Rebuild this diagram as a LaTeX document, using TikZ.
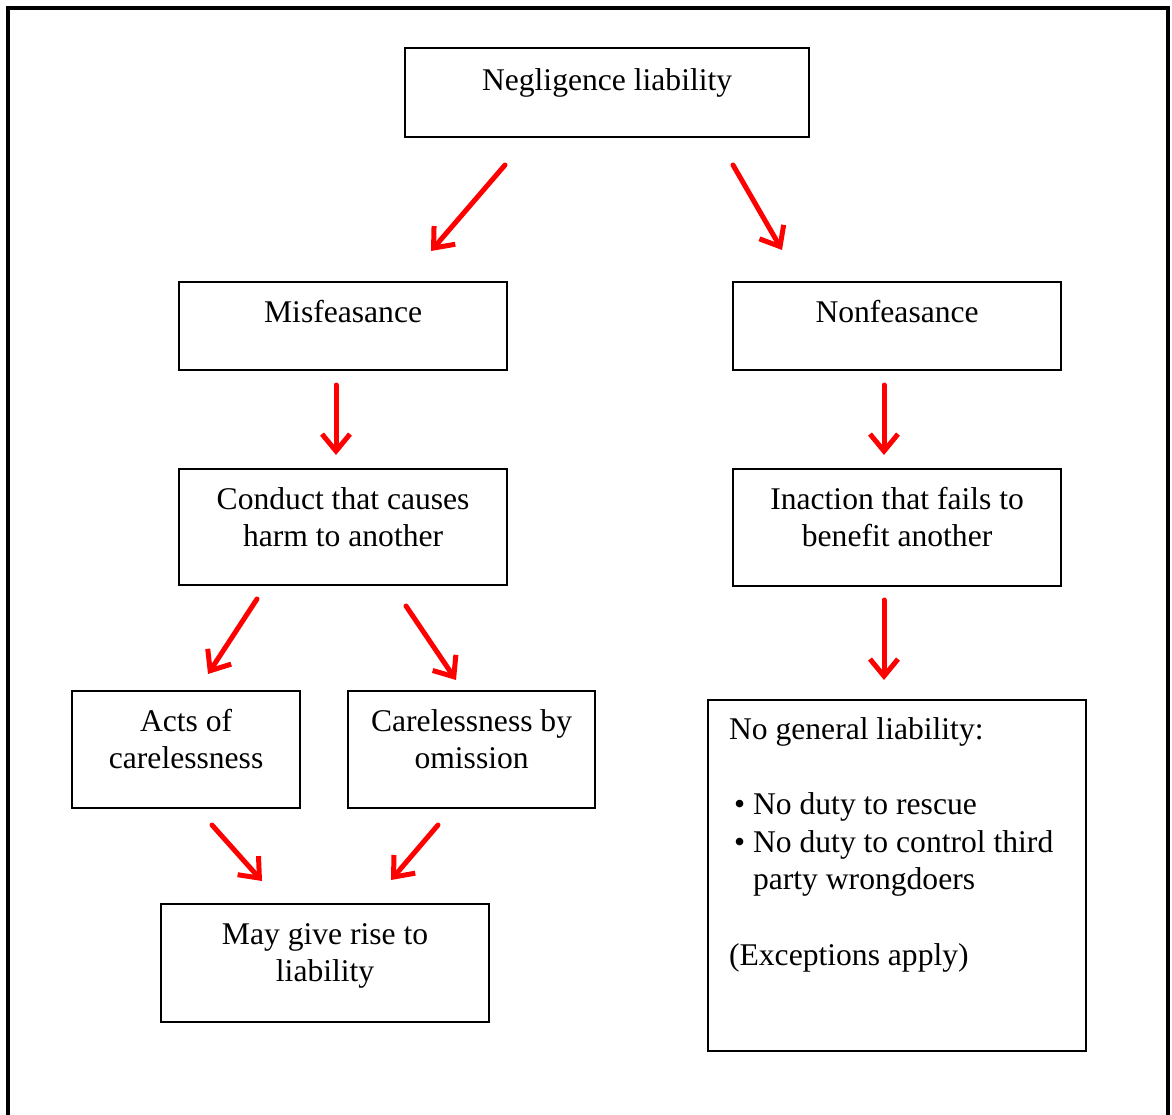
\documentclass[tikz,border=0pt]{standalone}
\usepackage{fontspec}
\setmainfont{Liberation Serif}
\usetikzlibrary{arrows.meta}

% text block of a flow box: width, height, top gap, lines
\newcommand\flowlines[4]{%
  \parbox[c][#2][t]{#1}{\fontsize{31.6pt}{37.7pt}\selectfont\centering
    \vspace*{#3}\strut #4\par}}

\tikzset{
  box/.style={draw=black, line width=2.2pt, inner sep=0pt, anchor=north west},
  flow/.style={draw=red, line width=5pt, line cap=round,
    -{Straight Barb[length=17pt,width=28pt]}},
}

\begin{document}
\begin{tikzpicture}[x=1pt, y=-1pt]
\useasboundingbox (0,0) rectangle (1172,1115);

% open frame round the chart
\draw[line width=4pt] (8,1115) -- (8,8) -- (1168,8) -- (1168,1115);

% boxes
\node[box] (neg) at (404,47) {\flowlines{404pt}{89pt}{15.6pt}{Negligence liability}};
\node[box] (mis) at (178,281) {\flowlines{328pt}{88pt}{13.6pt}{Misfeasance}};
\node[box] (non) at (732,281) {\flowlines{328pt}{88pt}{13.6pt}{Nonfeasance}};
\node[box] (cond) at (178,468) {\flowlines{328pt}{116pt}{13.6pt}{Conduct that causes\\harm to another}};
\node[box] (inac) at (732,468) {\flowlines{328pt}{117pt}{13.6pt}{Inaction that fails to\\benefit another}};
\node[box] (acts) at (71,690) {\flowlines{228pt}{117pt}{13.6pt}{Acts of\\carelessness}};
\node[box] (care) at (347,690) {\flowlines{247pt}{117pt}{13.6pt}{Carelessness by\\omission}};
\node[box] (may) at (160,903) {\flowlines{328pt}{118pt}{13.6pt}{May give rise to\\liability}};
\node[box] (nogen) at (707,699) {\parbox[c][351pt][t]{378pt}{%
    \fontsize{31.6pt}{37.7pt}\selectfont\raggedright\leftskip=21pt
    \vspace*{12.6pt}\strut No general liability:\\[37.7pt]
    \hspace*{5pt}\makebox[19pt][l]{\textbullet}No duty to rescue\\
    \hspace*{5pt}\makebox[19pt][l]{\textbullet}No duty to control third\\
    \hspace*{24pt}party wrongdoers\\[37.7pt]
    (Exceptions apply)\par}};

% arrow end points
\coordinate (negL) at (505,165);  \coordinate (misT) at (431,251);
\coordinate (negR) at (733,165);  \coordinate (nonT) at (782,250);
\coordinate (misB) at (336,385);  \coordinate (condT) at (336,455);
\coordinate (nonB) at (884,385);  \coordinate (inacT) at (884,455);
\coordinate (condL) at (257,599); \coordinate (actsT) at (208,674);
\coordinate (condR) at (406,606); \coordinate (careT) at (456,680);
\coordinate (inacB) at (884,600); \coordinate (nogenT) at (884,680);
\coordinate (actsB) at (212,825); \coordinate (mayL) at (262,881);
\coordinate (careB) at (438,825); \coordinate (mayR) at (391,880);

% arrows
\draw[flow] (negL) -- (misT);
\draw[flow] (negR) -- (nonT);
\draw[flow] (misB) -- (condT);
\draw[flow] (nonB) -- (inacT);
\draw[flow] (condL) -- (actsT);
\draw[flow] (condR) -- (careT);
\draw[flow] (inacB) -- (nogenT);
\draw[flow] (actsB) -- (mayL);
\draw[flow] (careB) -- (mayR);
\end{tikzpicture}
\end{document}
